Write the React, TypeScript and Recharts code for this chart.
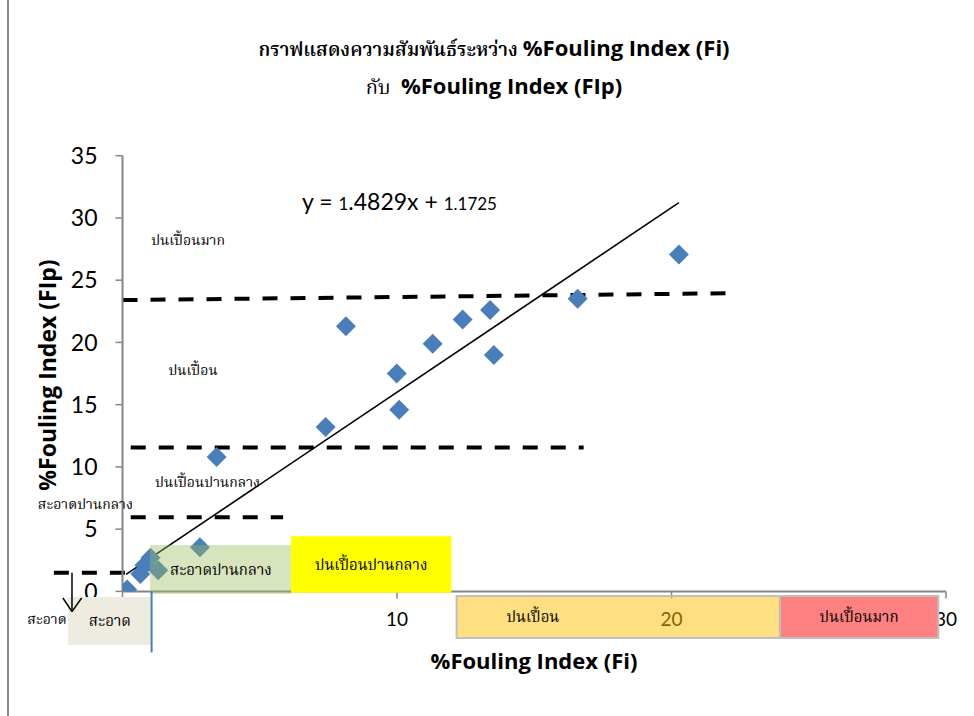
import React from 'react';
import {
  ScatterChart,
  Scatter,
  XAxis,
  YAxis,
  ReferenceLine,
  ReferenceArea,
  ReferenceDot,
} from 'recharts';

// %Fouling Index (Fi) vs %Fouling Index (FIp)
const fiValues = [0.17, 0.65, 0.8, 1.02, 1.3, 2.82, 3.43, 7.4, 8.14, 9.99, 10.08, 11.3, 12.39, 13.39, 13.53, 16.58, 20.27];
const fipValues = [0.15, 1.4, 2.1, 2.7, 1.7, 3.55, 10.8, 13.2, 21.3, 17.5, 14.6, 19.9, 21.85, 22.6, 19.0, 23.5, 27.06];

const xTicks = [0, 10, 20, 30];
const yTicks = [0, 5, 10, 15, 20, 25, 30, 35];

const slope = 1.4829;
const intercept = 1.1725;
const trendRange = [0.13, 20.27];

// hand drawn zone borders (data units)
const zoneLines = [
  [{ x: 0, y: 23.4 }, { x: 22.1, y: 23.95 }],
  [{ x: 0.3, y: 11.55 }, { x: 16.8, y: 11.55 }],
  [{ x: 0.3, y: 5.95 }, { x: 5.85, y: 5.95 }],
  [{ x: -2.5, y: 1.5 }, { x: 0.13, y: 1.5 }],
];

const arrowLines = [
  [{ x: -1.84, y: 1.5 }, { x: -1.84, y: -1.62 }],
  [{ x: -2.17, y: -0.53 }, { x: -1.84, y: -1.62 }],
  [{ x: -1.49, y: -0.53 }, { x: -1.84, y: -1.62 }],
];

const zoneNotes = [
  { x: 2.39, y: 28.2, text: 'ปนเปื้อนมาก' },
  { x: 2.57, y: 17.75, text: 'ปนเปื้อน' },
  { x: 3.1, y: 8.77, text: 'ปนเปื้อนปานกลาง' },
  { x: -1.35, y: 7.0, text: 'สะอาดปานกลาง' },
  { x: -2.75, y: -2.2, text: 'สะอาด' },
];

const zoneBoxes = [
  { x1: -1.99, x2: 1.07, y1: -0.45, y2: -4.3, fill: '#EEECE1', opacity: 1, border: 'none', text: 'สะอาด', pos: 'center', offset: 0 },
  { x1: 1.0, x2: 6.17, y1: 3.72, y2: -0.2, fill: '#9BBB59', opacity: 0.4, border: 'none', text: 'สะอาดปานกลาง', pos: 'insideLeft', offset: 20 },
  { x1: 6.14, x2: 11.98, y1: 4.44, y2: -0.1, fill: '#FFFF00', opacity: 1, border: 'none', text: 'ปนเปื้อนปานกลาง', pos: 'center', offset: 0 },
  { x1: 12.17, x2: 23.95, y1: -0.37, y2: -3.75, fill: '#FFC000', opacity: 0.5, border: '#BFBFBF', text: 'ปนเปื้อน', pos: 'insideLeft', offset: 50 },
  { x1: 23.95, x2: 29.72, y1: -0.37, y2: -3.75, fill: '#FF8080', opacity: 1, border: '#BFBFBF', text: 'ปนเปื้อนมาก', pos: 'center', offset: 0 },
];

const points = fiValues.map((x, i) => ({ x, y: fipValues[i] }));
const thaiFont = '"Noto Serif Thai", "Noto Sans Thai", "Tlwg Typo", serif';
const tickFont = 'Lato, "Open Sans", sans-serif';

const Diamond = (props: any) => {
  const { cx, cy } = props;
  const h = 10;
  return (
    <path
      d={`M${cx},${cy - h}L${cx + h},${cy}L${cx},${cy + h}L${cx - h},${cy}Z`}
      fill="#4A7EBB"
    />
  );
};

export default function App() {
  return (
    <div style={{ position: 'absolute', left: 0, top: 0, width: 974, height: 716, background: '#fff', overflow: 'hidden' }}>
      <div style={{ position: 'absolute', left: 7, top: 0, width: 0, height: 716, borderLeft: '2px solid #8C8C8C' }} />
      <div
        style={{
          position: 'absolute', left: 0, width: 974, top: 30, textAlign: 'center',
          fontFamily: '"Open Sans", sans-serif', fontWeight: 700, fontSize: 22, lineHeight: '34px', paddingLeft: 14,
          boxSizing: 'border-box',
        }}
      >
        <div><span style={{ fontFamily: thaiFont, fontWeight: 600, fontSize: 19 }}>กราฟแสดงความสัมพันธ์ระหว่าง </span>%Fouling Index (Fi)</div>
        <div><span style={{ fontFamily: thaiFont, fontWeight: 400, fontSize: 20 }}>กับ&nbsp;&nbsp;</span>%Fouling Index (FIp)</div>
      </div>

      <ScatterChart
        width={974}
        height={716}
        margin={{ top: 155.7, right: 28, bottom: 84.6, left: 62.5 }}
      >
        <XAxis
          type="number"
          dataKey="x"
          domain={[0, 30]}
          ticks={xTicks}
          tickSize={7}
          tickMargin={14}
          height={40}
          axisLine={{ stroke: '#868686', strokeWidth: 2 }}
          tickLine={{ stroke: '#868686', strokeWidth: 1.5 }}
          tick={{ fontSize: 19, fill: '#000', fontFamily: tickFont }}
          tickFormatter={(v) => (v === 0 ? '' : String(v))}
          allowDataOverflow
        />
        <YAxis
          type="number"
          dataKey="y"
          domain={[0, 35]}
          ticks={yTicks}
          width={60}
          tickSize={7}
          tickMargin={18}
          axisLine={{ stroke: '#868686', strokeWidth: 2 }}
          tickLine={{ stroke: '#868686', strokeWidth: 1.5 }}
          tick={{ fontSize: 23, fill: '#000', fontFamily: tickFont }}
          allowDataOverflow
        />
        {zoneLines.map((seg, i) => (
          <ReferenceLine
            key={`z${i}`}
            segment={seg}
            ifOverflow="visible"
            stroke="#000"
            strokeWidth={4}
            strokeDasharray="15 13"
          />
        ))}
        <ReferenceLine
          segment={[
            { x: trendRange[0], y: slope * trendRange[0] + intercept },
            { x: trendRange[1], y: slope * trendRange[1] + intercept },
          ]}
          ifOverflow="visible"
          stroke="#000"
          strokeWidth={1.6}
        />
        {zoneNotes.map((n, i) => (
          <ReferenceDot
            key={`n${i}`}
            x={n.x}
            y={n.y}
            r={1}
            fill="none"
            stroke="none"
            ifOverflow="visible"
            label={{ value: n.text, position: 'center', fontSize: 14, fill: '#000', fontFamily: thaiFont }}
          />
        ))}
        <Scatter data={points} shape={<Diamond />} isAnimationActive={false} />
        {zoneBoxes.map((b, i) => (
          <ReferenceArea
            key={`b${i}`}
            x1={b.x1}
            x2={b.x2}
            y1={b.y1}
            y2={b.y2}
            ifOverflow="visible"
            fill={b.fill}
            fillOpacity={b.opacity}
            stroke={b.border}
            strokeWidth={2}
            {...({ zIndex: 2100 } as any)}
            label={{ value: b.text, position: b.pos as any, offset: b.offset, fontSize: 15, fill: '#000', fontFamily: thaiFont, zIndex: 2300 } as any}
          />
        ))}
        {arrowLines.map((seg, i) => (
          <ReferenceLine
            key={`a${i}`}
            segment={seg}
            ifOverflow="visible"
            stroke="#000"
            strokeWidth={1.5}
            {...({ zIndex: 2200 } as any)}
          />
        ))}
        <ReferenceLine
          segment={[{ x: 1.06, y: 0 }, { x: 1.06, y: -4.9 }]}
          ifOverflow="visible"
          stroke="#4A7EBB"
          strokeWidth={2}
          {...({ zIndex: 2200 } as any)}
        />
      </ScatterChart>

      <div
        style={{
          position: 'absolute', left: 302, top: 187, fontFamily: tickFont, fontSize: 23, whiteSpace: 'nowrap',
        }}
      >
        y = <span style={{ fontSize: 17 }}>1</span>.4829x + <span style={{ fontSize: 17 }}>1.1725</span>
      </div>
      <div
        style={{
          position: 'absolute', left: 46.7, top: 375, transform: 'translate(-50%, -50%) rotate(-90deg)',
          fontFamily: '"Open Sans", sans-serif', fontWeight: 700, fontSize: 23, whiteSpace: 'nowrap',
        }}
      >
        %Fouling Index (FIp)
      </div>
      <div
        style={{
          position: 'absolute', left: 534, top: 660, transform: 'translate(-50%, -50%)',
          fontFamily: '"Open Sans", sans-serif', fontWeight: 700, fontSize: 22, whiteSpace: 'nowrap',
        }}
      >
        %Fouling Index (Fi)
      </div>
    </div>
  );
}
